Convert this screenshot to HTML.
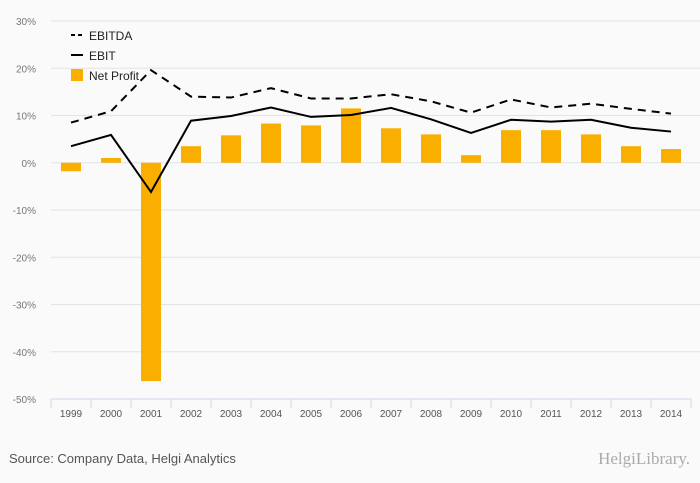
<!DOCTYPE html>
<html><head><meta charset="utf-8"><style>
body{margin:0;background:#fafafa;font-family:"Liberation Sans",sans-serif;}
svg{display:block}
</style></head><body>
<svg id="c" width="700" height="483" xmlns="http://www.w3.org/2000/svg">
<rect width="700" height="483" fill="#fafafa"/>
<g id="grid"></g><g id="bars"></g><g id="lines"></g><g id="xaxis"></g>
<g>
<line x1="71" y1="35" x2="83" y2="35" stroke="#000" stroke-width="2" stroke-dasharray="4,3"/>
<text x="89" y="40" font-size="12" fill="#222">EBITDA</text>
<line x1="71" y1="55" x2="83" y2="55" stroke="#000" stroke-width="2"/>
<text x="89" y="60" font-size="12" fill="#222">EBIT</text>
<rect x="71" y="69" width="12" height="12" fill="#f9ae00"/>
<text x="89" y="80" font-size="12" fill="#222">Net Profit</text>
</g>
<text x="9" y="463" font-size="13" fill="#555">Source: Company Data, Helgi Analytics</text>
<text x="690" y="464" font-size="17" fill="#aaa" text-anchor="end" font-family="Liberation Serif,serif">HelgiLibrary.</text>
</svg>
<script>
const years=["1999","2000","2001","2002","2003","2004","2005","2006","2007","2008","2009","2010","2011","2012","2013","2014"];
const netProfit=[-1.8,1.0,-46.2,3.5,5.8,8.3,7.9,11.5,7.3,6.0,1.6,6.9,6.9,6.0,3.5,2.9];
const ebit=[3.5,5.9,-6.2,8.9,9.9,11.7,9.7,10.1,11.6,9.2,6.3,9.1,8.7,9.1,7.4,6.6];
const ebitda=[8.5,10.9,19.6,14.0,13.8,15.8,13.6,13.6,14.5,13.0,10.6,13.4,11.7,12.5,11.4,10.4];
const yTicks=[30,20,10,0,-10,-20,-30,-40,-50];
const NS="http://www.w3.org/2000/svg";
const L=51,R=691,yMax=30,yMin=-50,T=21,B=399;
const y=v=>T+(yMax-v)/(yMax-yMin)*(B-T);
const step=(R-L)/years.length;
const x=i=>L+step*(i+0.5);
function mk(tag,attrs,parent){const e=document.createElementNS(NS,tag);for(const k in attrs)e.setAttribute(k,attrs[k]);document.getElementById(parent).appendChild(e);return e;}
yTicks.forEach(t=>{
 if(t!==yMin){const g=mk('line',{x1:L,x2:700,y1:y(t),y2:y(t),stroke:'#e3e3e3','stroke-width':1},'grid');
 
 }
 const tx=mk('text',{x:36,y:y(t)+4,'font-size':10,fill:'#777','text-anchor':'end'},'grid');
 tx.textContent=t+'%';
 
 
});
const ax=mk('line',{x1:L,x2:R,y1:B,y2:B,stroke:'#ccd6eb'},'xaxis');


for(let i=0;i<=years.length;i++){const tk=mk('line',{x1:L+step*i,x2:L+step*i,y1:B,y2:B+9,stroke:'#ccd6eb'},'xaxis');
 
 }
years.forEach((yr,i)=>{
 const t=mk('text',{x:x(i),y:B+18,'font-size':10,fill:'#555','text-anchor':'middle'},'xaxis');
 t.textContent=yr;
 
 
 const v=netProfit[i];
 const b=mk('rect',{x:x(i)-10,width:20,y:Math.min(y(v),y(0)),height:Math.abs(y(v)-y(0)),fill:'#f9ae00'},'bars');
 
 
});
const pts=a=>a.map((v,i)=>x(i)+','+y(v)).join(' ');
const l1=mk('polyline',{points:pts(ebitda),fill:'none',stroke:'#000','stroke-width':2,'stroke-dasharray':'8,6'},'lines');


const l2=mk('polyline',{points:pts(ebit),fill:'none',stroke:'#000','stroke-width':2},'lines');


</script>
</body></html>
